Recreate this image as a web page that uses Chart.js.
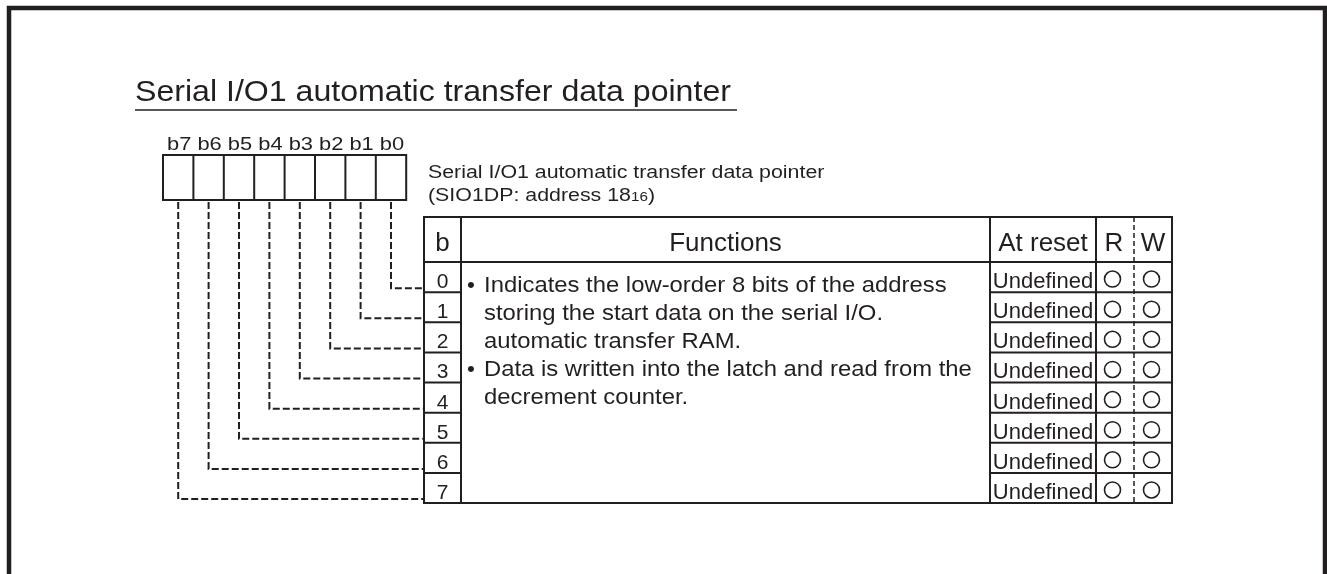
<!DOCTYPE html>
<html>
<head>
<meta charset="utf-8">
<script src="https://cdn.jsdelivr.net/npm/chart.js@4"></script>
<style>
  body { margin: 0; background: #fff; }
  #wrap { width: 1327px; height: 574px; }
</style>
</head>
<body>
<div id="wrap"><canvas id="regChart" width="1327" height="574"></canvas></div>
<script>
// register data
const titleText = 'Serial I/O1 automatic transfer data pointer';
const registerName = 'Serial I/O1 automatic transfer data pointer';
const registerAddr = ['(SIO1DP: address 18', '16', ')'];
const bitLabels = ['b7', 'b6', 'b5', 'b4', 'b3', 'b2', 'b1', 'b0'];
const bitNumbers = [0, 1, 2, 3, 4, 5, 6, 7];
const headers = ['b', 'Functions', 'At reset', 'R', 'W'];
const resetValues = ['Undefined', 'Undefined', 'Undefined', 'Undefined', 'Undefined', 'Undefined', 'Undefined', 'Undefined'];
const readable = [1, 1, 1, 1, 1, 1, 1, 1];
const writable = [1, 1, 1, 1, 1, 1, 1, 1];
const functionLines = [
    { bullet: true, text: 'Indicates the low-order 8 bits of the address' },
    { bullet: false, text: 'storing the start data on the serial I/O.' },
    { bullet: false, text: 'automatic transfer RAM.' },
    { bullet: true, text: 'Data is written into the latch and read from the' },
    { bullet: false, text: 'decrement counter.' }
];

// layout (pixels of the 1327x574 page)
const W = 1327, H = 574;
const INK = '#231f20';
const FONT = '"Liberation Sans", Arial, Helvetica, sans-serif';
const box = { left: 163, top: 155, w: 30.4, h: 45, labelY: 150 };
const tbl = { top: 217, headH: 45, rowH: 30.125, cols: [424, 461, 990, 1096, 1134, 1172] };
const rowTop = i => tbl.top + tbl.headH + tbl.rowH * i;
const rowMid = i => rowTop(i) + tbl.rowH / 2;
const bitX = k => box.left + box.w * (k + 0.5);

const diagram = {
    id: 'diagram',
    beforeDatasetsDraw(chart) {
        const c = chart.ctx;
        const xs = chart.scales.x, ys = chart.scales.y;
        const px = v => xs.getPixelForValue(v);
        const py = v => ys.getPixelForValue(v);
        // text with a horizontal stretch factor sx
        const text = (s, x, y, size, align, sx, maxW) => {
            c.save();
            c.font = size + 'px ' + FONT;
            c.textAlign = align || 'left';
            c.textBaseline = 'alphabetic';
            c.translate(px(x), py(y));
            c.scale(sx || 1, 1);
            if (maxW) c.fillText(s, 0, 0, maxW); else c.fillText(s, 0, 0);
            c.restore();
        };
        const textW = (s, size, sx) => {
            c.font = size + 'px ' + FONT;
            return c.measureText(s).width * (sx || 1);
        };
        const line = (x1, y1, x2, y2) => {
            c.beginPath(); c.moveTo(px(x1), py(y1)); c.lineTo(px(x2), py(y2)); c.stroke();
        };
        c.save();
        c.fillStyle = INK;
        c.strokeStyle = INK;

        // outer frame (open at bottom)
        c.lineWidth = 4.5;
        c.beginPath();
        c.moveTo(px(9), py(H + 5)); c.lineTo(px(9), py(8)); c.lineTo(px(1325), py(8)); c.lineTo(px(1325), py(H + 5));
        c.stroke();

        // title + underline
        text(titleText, 135, 101, 30, 'left', 1.07);
        c.lineWidth = 1.5;
        line(135, 110, 737, 110);

        // bit boxes
        c.lineWidth = 2;
        c.strokeRect(px(box.left), py(box.top), box.w * 8, box.h);
        for (let k = 1; k < 8; k++) line(box.left + box.w * k, box.top, box.left + box.w * k, box.top + box.h);
        bitLabels.forEach((b, k) => text(b, bitX(k) + 1, box.labelY, 17.5, 'center', 1.25));

        // register name
        const sx = 1.22;
        text(registerName, 428, 178, 17.5, 'left', sx);
        const w1 = textW(registerAddr[0], 17.5, sx);
        text(registerAddr[0], 428, 201, 17.5, 'left', sx);
        const w2 = textW(registerAddr[1], 12.5, sx);
        text(registerAddr[1], 428 + w1, 201, 12.5, 'left', sx);
        text(registerAddr[2], 428 + w1 + w2, 201, 17.5, 'left', sx);

        // dashed leaders from bit boxes to rows
        c.lineWidth = 2;
        c.setLineDash([7, 3]);
        bitNumbers.forEach(n => {
            const k = 7 - n;
            const yl = rowTop(n) + tbl.rowH - 4;
            c.beginPath();
            c.moveTo(px(bitX(k)), py(box.top + box.h + 2));
            c.lineTo(px(bitX(k)), py(yl));
            c.lineTo(px(tbl.cols[0]), py(yl));
            c.stroke();
        });
        c.setLineDash([]);

        // table frame
        const cl = tbl.cols;
        const bottom = rowTop(8);
        c.lineWidth = 2;
        c.strokeRect(px(cl[0]), py(tbl.top), cl[5] - cl[0], bottom - tbl.top);
        line(cl[0], tbl.top + tbl.headH, cl[5], tbl.top + tbl.headH);
        [1, 2, 3].forEach(i => line(cl[i], tbl.top, cl[i], bottom));
        for (let i = 1; i < 8; i++) {
            line(cl[0], rowTop(i), cl[1], rowTop(i));
            line(cl[2], rowTop(i), cl[5], rowTop(i));
        }
        c.lineWidth = 1.5;
        c.setLineDash([5, 3]);
        line(cl[4], tbl.top, cl[4], bottom);
        c.setLineDash([]);

        // header
        const hy = tbl.top + 34;
        text(headers[0], (cl[0] + cl[1]) / 2, hy, 25, 'center', 1.04);
        text(headers[1], (cl[1] + cl[2]) / 2, hy, 25, 'center', 1.04);
        text(headers[2], (cl[2] + cl[3]) / 2, hy, 25, 'center', 1.04);
        text(headers[3], (cl[3] + cl[4]) / 2 - 1, hy, 25, 'center', 1.04);
        text(headers[4], (cl[4] + cl[5]) / 2, hy, 25, 'center', 1.04);

        // rows
        bitNumbers.forEach(n => {
            text(String(n), (cl[0] + cl[1]) / 2, rowTop(n) + 26, 21, 'center');
            text(resetValues[n], (cl[2] + cl[3]) / 2, rowTop(n) + 26, 22, 'center', 1, cl[3] - cl[2] - 4);
        });

        // functions text
        functionLines.forEach((ln, i) => {
            const y = 292 + 28 * i;
            if (ln.bullet) text('\u2022', 467, y, 22.5);
            text(ln.text, 484, y, 22.5, 'left', 1.06);
        });
        c.restore();
    }
};

const rCenter = 1112.5;
const wCenter = 1151.5;
const circleSet = (label, flags, x) => ({
    label: label,
    data: bitNumbers.filter(n => flags[n]).map(n => ({ x: x, y: rowMid(n) + 2 })),
    pointStyle: 'circle',
    pointRadius: 8,
    pointBorderWidth: 1.6,
    pointBackgroundColor: '#fff',
    pointBorderColor: INK
});

const ctx = document.getElementById('regChart').getContext('2d');
new Chart(ctx, {
    type: 'scatter',
    data: {
        datasets: [circleSet('R', readable, rCenter), circleSet('W', writable, wCenter)]
    },
    options: {
        responsive: false,
        animation: false,
        events: [],
        layout: { padding: 0, autoPadding: false },
        plugins: { legend: { display: false }, tooltip: { enabled: false } },
        scales: {
            x: { type: 'linear', min: 0, max: W, display: false },
            y: { type: 'linear', min: 0, max: H, reverse: true, display: false }
        }
    },
    plugins: [diagram]
});
</script>
</body>
</html>
